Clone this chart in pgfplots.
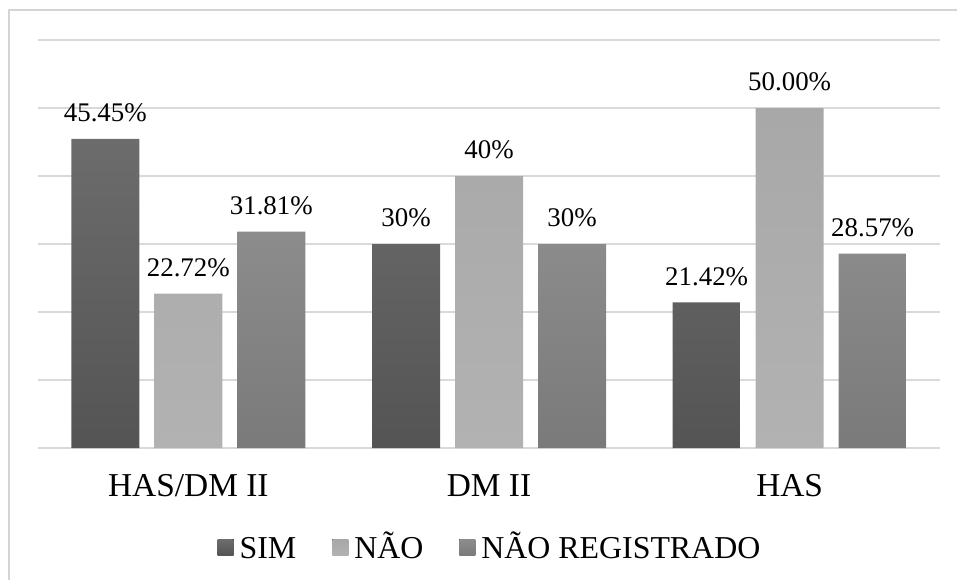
\documentclass[border=0pt]{standalone}
\usepackage{pgfplots}
\pgfplotsset{compat=1.18}
\usepackage{fontspec}
\setmainfont{Liberation Serif}

\definecolor{simtop}{HTML}{6C6C6C}
\definecolor{simbot}{HTML}{545454}
\definecolor{naotop}{HTML}{A8A8A8}
\definecolor{naobot}{HTML}{B2B2B2}
\definecolor{nrtop}{HTML}{8C8C8C}
\definecolor{nrbot}{HTML}{7A7A7A}
\definecolor{gridc}{HTML}{D9D9D9}
\definecolor{framec}{HTML}{D4D4D4}

\begin{document}
\begin{tikzpicture}[x=1bp,y=1bp]
\useasboundingbox (0,0) rectangle (957,-580);
% chart frame
\draw[line width=1.5bp, color=framec] (9,-580) -- (9,-10) -- (957,-10);
\begin{axis}[
  at={(38bp,-448bp)}, anchor=south west,
  scale only axis, width=902bp, height=408bp,
  ymin=0, ymax=60, ytick={0,10,...,60}, yticklabels={},
  xmin=-0.5, xmax=2.5, xtick={0,1,2},
  xticklabels={HAS/DM II, DM II, HAS},
  axis line style={draw=none}, major tick length=0pt,
  ymajorgrids, grid style={line width=1.5bp, color=gridc},
  ybar=15bp, bar width=68bp,
  nodes near coords, point meta=explicit symbolic,
  every node near coord/.append style={font=\fontsize{27}{31}\selectfont,
    inner sep=0pt, yshift=16.5bp, color=black},
  xticklabel style={font=\fontsize{33.5}{38}\selectfont, inner sep=0pt,
    yshift=-26bp, color=black},
  legend columns=3,
  legend style={at={(0.5,-0.2)}, anchor=north, draw=none, fill=none,
    font=\fontsize{32}{36}\selectfont,
    nodes={inner sep=0pt, anchor=base west},
    /tikz/every odd column/.append style={column sep=6bp},
    /tikz/every even column/.append style={column sep=36bp}},
  legend image code/.code={\fill[#1] (0bp,3bp) rectangle (16bp,19bp);},
]
\addplot[draw=none, top color=simtop, bottom color=simbot] coordinates {
  (0,45.45) [45.45\%]
  (1,30)    [30\%]
  (2,21.42) [21.42\%]
};
\addplot[draw=none, top color=naotop, bottom color=naobot] coordinates {
  (0,22.72) [22.72\%]
  (1,40)    [40\%]
  (2,50.00) [50.00\%]
};
\addplot[draw=none, top color=nrtop, bottom color=nrbot] coordinates {
  (0,31.81) [31.81\%]
  (1,30)    [30\%]
  (2,28.57) [28.57\%]
};
\legend{SIM, NÃO, NÃO REGISTRADO}
\end{axis}
\end{tikzpicture}
\end{document}
